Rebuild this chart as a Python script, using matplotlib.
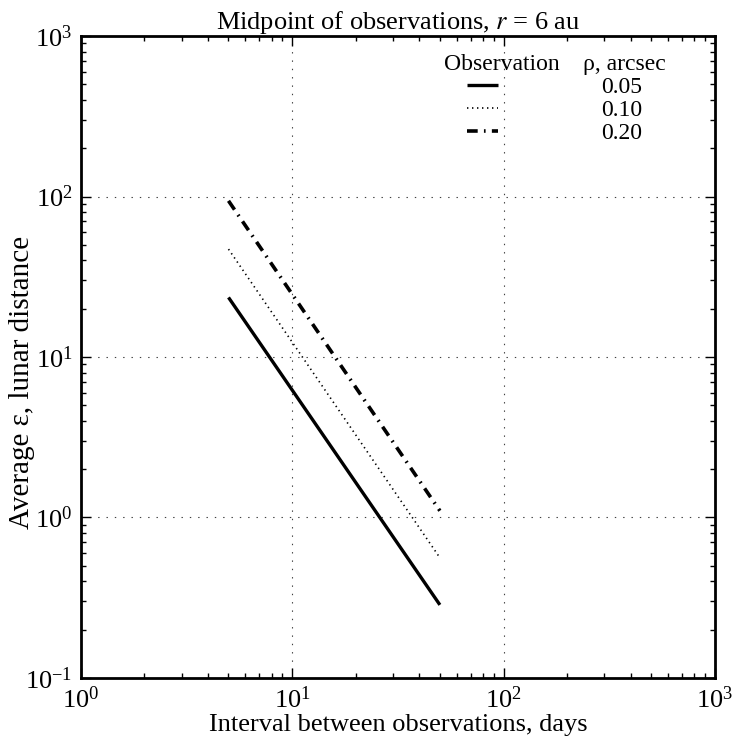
import matplotlib
matplotlib.use("Agg")
import matplotlib.pyplot as plt

plt.rcParams["font.family"] = ["Liberation Serif", "DejaVu Serif"]
plt.rcParams["mathtext.fontset"] = "stix"
plt.rcParams["lines.scale_dashes"] = False

# interval between observations (days) and average epsilon (lunar distances)
interval = [5, 50]
eps_005 = [23.5, 0.285]
eps_010 = [47.0, 0.56]
eps_020 = [94.0, 1.10]
rho_labels = ["0.05", "0.10", "0.20"]

fig = plt.figure(figsize=(7.34, 7.36), dpi=100)
ax = fig.add_axes([0.110, 0.079, 0.864, 0.872])

ax.plot(interval, eps_005, color="k", lw=2.4, solid_capstyle="butt",
        label=rho_labels[0])
ax.plot(interval, eps_010, color="k", lw=1.2, dashes=(1, 2.6),
        label=rho_labels[1])
ax.plot(interval, eps_020, color="k", lw=2.6, dashes=(7.7, 4.5, 1.2, 4.5),
        label=rho_labels[2])

ax.set_xscale("log")
ax.set_yscale("log")
ax.set_xlim(1, 1000)
ax.set_ylim(0.1, 1000)

ax.grid(True, which="major", color="0.25", lw=0.8, linestyle=(0, (1, 5)))
ax.tick_params(which="both", direction="in", top=True, right=True,
               labelsize=19, pad=6)
ax.tick_params(which="major", length=7, width=1)
ax.tick_params(which="minor", length=3.5, width=1)
for sp in ax.spines.values():
    sp.set_linewidth(2)

ax.set_title("Midpoint of observations, $r$ = 6 au", fontsize=19, pad=5)
ax.set_xlabel("Interval between observations, days", fontsize=19, labelpad=1)
ax.set_ylabel("Average ε, lunar distance", fontsize=21, va="center")
ax.yaxis.set_label_coords(-0.092, 0.46)

leg = ax.legend(title="Observation    ρ, arcsec", frameon=False, fontsize=17,
                title_fontsize=17, loc="upper right",
                bbox_to_anchor=(0.941, 0.991), borderpad=0,
                handlelength=1.3, handletextpad=4.4, labelspacing=0.07)

fig.savefig("out.png", dpi=100)
